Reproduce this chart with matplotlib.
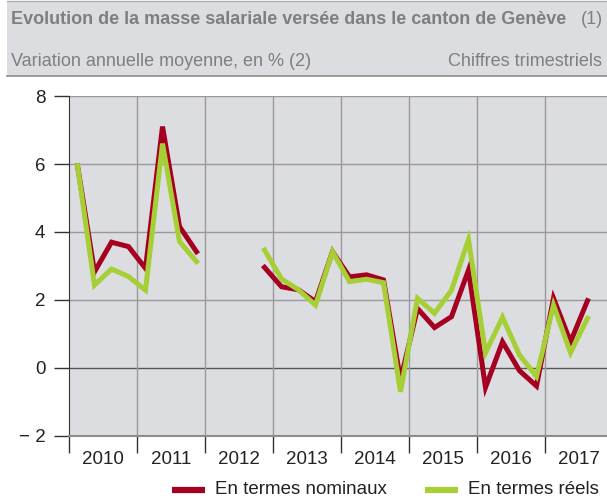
import numpy as np
import matplotlib.pyplot as plt
from matplotlib.patches import Rectangle
from matplotlib.lines import Line2D

plt.rcParams['font.family'] = ['Liberation Sans', 'DejaVu Sans']

# données trimestrielles 2010 T1 - 2017 T3 (None = pas de donnée)
years = ['2010', '2011', '2012', '2013', '2014', '2015', '2016', '2017']
nominal = [5.95, 2.83, 3.70, 3.57, 2.93, 7.10, 4.16, 3.42,
           None, None, None, 2.96,
           2.39, 2.30, 1.95, 3.42,
           2.68, 2.74, 2.59, -0.35,
           1.75, 1.19, 1.51, 2.88,
           -0.57, 0.77, -0.08, -0.53,
           2.05, 0.77, 1.98]
reel = [5.95, 2.44, 2.91, 2.69, 2.29, 6.60, 3.72, 3.13,
        None, None, None, 3.47,
        2.62, 2.30, 1.85, 3.42,
        2.54, 2.61, 2.51, -0.70,
        2.05, 1.61, 2.29, 3.78,
        0.45, 1.49, 0.38, -0.25,
        1.85, 0.45, 1.46]
labels = ['En termes nominaux', 'En termes réels']

red = '#a50021'
green = '#a5cf35'
grey_txt = '#7f7f7f'

x = np.arange(len(nominal)) + 0.5
nom = np.array([np.nan if v is None else v for v in nominal])
ree = np.array([np.nan if v is None else v for v in reel])

W, H = 607, 501
fig = plt.figure(figsize=(W / 100, H / 100), dpi=100)

# bandeau du titre
fig.patches.append(Rectangle((7 / W, 1 - 76 / H), 1, 75 / H, transform=fig.transFigure,
                             facecolor='#dcdde0', edgecolor='none', zorder=0))
fig.add_artist(Line2D([7 / W, 1], [1 - 76 / H] * 2, color='#8c8c8c', lw=1.2))
fig.add_artist(Line2D([7 / W, 1], [1 - 1 / H] * 2, color='#b0b0b0', lw=1.0))
fig.text(11 / W, 1 - 20 / H, 'Evolution de la masse salariale versée dans le canton de Genève',
         fontsize=13, fontweight='bold', color=grey_txt, va='center', ha='left')
fig.text(603 / W, 1 - 20 / H, '(1)', fontsize=13, color=grey_txt, va='center', ha='right')
fig.text(11 / W, 1 - 62 / H, 'Variation annuelle moyenne, en % (2)',
         fontsize=13, color=grey_txt, va='center', ha='left')
fig.text(602 / W, 1 - 62 / H, 'Chiffres trimestriels',
         fontsize=13, color=grey_txt, va='center', ha='right')

ax = fig.add_axes([69 / W, 1 - 436 / H, 538 / W, 340 / H])
ax.set_facecolor('#dcdde0')
ax.set_xlim(0, 538 / 17)
ax.set_ylim(-2, 8)

for yv in [2, 4, 6, 8]:
    ax.axhline(yv, color='#9a9a9a', lw=1.0, zorder=1)
ax.axhline(0, color='#555555', lw=1.0, zorder=1)
for xv in range(4, 32, 4):
    ax.axvline(xv, color='#9a9a9a', lw=1.0, zorder=1)

ax.plot(x, nom, color=red, lw=3.6, solid_joinstyle='miter', zorder=3)
ax.plot(x, ree, color=green, lw=3.6, solid_joinstyle='miter', zorder=4)

for s in ['top', 'right']:
    ax.spines[s].set_visible(False)
ax.spines['left'].set_color('#333333')
ax.spines['bottom'].set_color('#8c8c8c')
ax.spines['bottom'].set_linewidth(1.5)

ax.set_yticks([-2, 0, 2, 4, 6, 8])
ax.set_yticklabels(['− 2', '0', '2', '4', '6', '8'])
ax.tick_params(axis='y', length=11, width=1, color='#333333', labelsize=13.5, pad=6, labelcolor='#222222')

ax.set_xticks(range(0, 32, 4))
ax.set_xticklabels([])
ax.tick_params(axis='x', which='major', length=12, width=1, color='#333333')
ax.set_xticks([i * 4 + 2 for i in range(len(years))], minor=True)
ax.set_xticklabels(years, minor=True)
ax.tick_params(axis='x', which='minor', length=0, labelsize=13.5, pad=11, labelcolor='#222222')

# légende placée à la main
ly = 1 - 490 / H
for (x0, x1, xt), col, lab in zip([(172, 205, 215), (425, 458, 468)], [red, green], labels):
    fig.add_artist(Line2D([x0 / W, x1 / W], [ly, ly], color=col, lw=4.5, solid_capstyle='butt'))
    fig.text(xt / W, ly, lab, fontsize=13.5, color='#222222', va='center', ha='left')

fig.savefig('out.png', dpi=100)
